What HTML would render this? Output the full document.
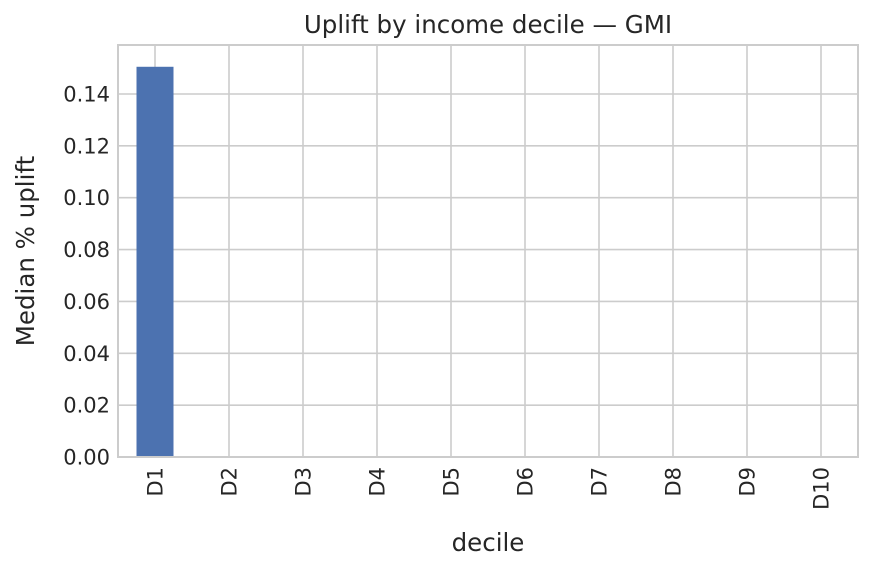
<!DOCTYPE html>
<html><head><meta charset="utf-8"><style>
body{margin:0;background:#fff;}
svg{display:block;font-family:"DejaVu Sans","Liberation Sans",sans-serif;}
</style></head><body>
<svg id="chart" width="873" height="571">
<g id="grid"></g><g id="bars"></g><g id="axes"></g>
<text x="488" y="33" text-anchor="middle" font-size="24.5" fill="#262626">Uplift by income decile — GMI</text>
<text x="488" y="551" text-anchor="middle" font-size="24.5" fill="#262626">decile</text>
<text transform="translate(34,251) rotate(-90)" text-anchor="middle" font-size="24.5" fill="#262626">Median % uplift</text>
</svg>
<script>
const categories=["D1","D2","D3","D4","D5","D6","D7","D8","D9","D10"];
const values=[0.1505,0,0,0,0,0,0,0,0,0];
const yTicks=[0,0.02,0.04,0.06,0.08,0.10,0.12,0.14];
const yTickLabels=["0.00","0.02","0.04","0.06","0.08","0.10","0.12","0.14"];
const L=118,R=858,T=45,B=457,yMax=0.1589;
const ns="http://www.w3.org/2000/svg";
function y(v){return B-(v/yMax)*(B-T);}
function x(i){return L+(R-L)/categories.length*(i+0.5);}
const bw=(R-L)/categories.length*0.5;
function mk(t,a,p){const e=document.createElementNS(ns,t);for(const k in a)e.setAttribute(k,a[k]);p.appendChild(e);return e;}
const g=document.getElementById('grid'),b=document.getElementById('bars'),ax=document.getElementById('axes');
yTicks.forEach((v,i)=>{
 const l=mk('line',{x1:L,x2:R,y1:y(v),y2:y(v),stroke:'#cccccc','stroke-width':1.6},g);
 
 
 const t=mk('text',{x:L-8,y:y(v)+7.5,'text-anchor':'end','font-size':21,fill:'#262626'},ax);
 t.textContent=yTickLabels[i];
 
 
});
categories.forEach((c,i)=>{
 const l=mk('line',{x1:x(i),x2:x(i),y1:T,y2:B,stroke:'#cccccc','stroke-width':1.6},g);
 
 
 const r=mk('rect',{x:x(i)-bw/2,y:y(values[i]),width:bw,height:B-y(values[i]),fill:'#4c72b0'},b);
 
 
 const t=mk('text',{transform:`translate(${x(i)+7.5},${B+10}) rotate(-90)`,'text-anchor':'end','font-size':21,fill:'#262626'},ax);
 t.textContent=c;
 
 
});
const f=mk('rect',{x:L,y:T,width:R-L,height:B-T,fill:'none',stroke:'#cccccc','stroke-width':2},ax);


</script>
</body></html>
